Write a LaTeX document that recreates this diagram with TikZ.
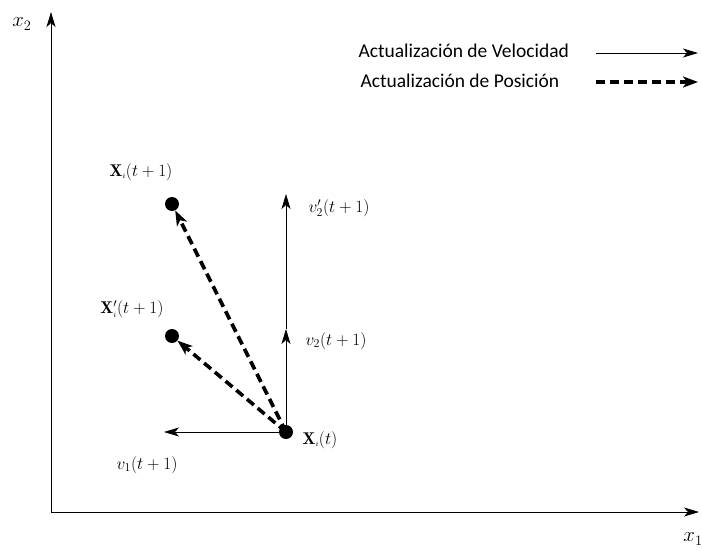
\documentclass[tikz,border=0pt]{standalone}
\usepackage{fontspec}
\setsansfont{Carlito}
\usetikzlibrary{arrows.meta}
\begin{document}
\begin{tikzpicture}[x=1pt,y=-1pt,
  velarrow/.style={draw=black, line width=0.8pt, -{Stealth[length=15pt,width=9pt,inset=4pt]}},
  posarrow/.style={draw=black, line width=3.6pt, dash pattern=on 9pt off 5pt, -{Stealth[length=15pt,width=11pt,inset=4pt]}},
  axisarrow/.style={draw=black, line width=0.8pt, -{Stealth[length=15pt,width=9pt,inset=4pt]}},
  dotnode/.style={circle, fill=black, inner sep=0pt, minimum size=14pt},
  lbl/.style={font=\fontsize{17}{20}\selectfont},
  leg/.style={font=\sffamily\fontsize{19.5}{22}\selectfont, anchor=west}]
\useasboundingbox (0,0) rectangle (702,551);
% axes
\coordinate (O) at (51,512);
\coordinate (Ytop) at (51,12);
\coordinate (Xend) at (699,512);
\draw[axisarrow] (O) -- (Ytop);
\draw[axisarrow] (O) -- (Xend);
\node[font=\fontsize{20}{24}\selectfont] (lx2) at (22,24) {$x_2$};
\node[font=\fontsize{20}{24}\selectfont] (lx1) at (693,539) {$x_1$};
% legend
\node[leg] (leg1) at (355,51) {Actualización de Velocidad};
\node[leg] (leg2) at (357,81) {Actualización de Posición};
\coordinate (l1a) at (596,53);
\coordinate (l1b) at (698,53);
\coordinate (l2a) at (596,82);
\coordinate (l2b) at (698,82);
\draw[velarrow] (l1a) -- (l1b);
\draw[posarrow] (l2a) -- (l2b);
% points
\node[dotnode] (xt) at (286,432) {};
\node[dotnode] (xt1) at (172,204) {};
\node[dotnode] (xpt1) at (172,336) {};
\coordinate (v2end) at (286,329);
\coordinate (vp2end) at (286,194);
\coordinate (v1end) at (164,432);
% velocity arrows
\draw[velarrow] (xt.center) -- (v2end);
\draw[velarrow] (v2end) -- (vp2end);
\draw[velarrow] (xt.center) -- (v1end);
% position arrows
\draw[posarrow] (xt.center) -- (xt1);
\draw[posarrow] (xt.center) -- (xpt1);
% labels
\node[lbl] (lxt1) at (141,172) {$\mathbf{X}_{\scriptscriptstyle i}(t+1)$};
\node[lbl] (lxpt1) at (132,309) {$\mathbf{X}'_{\scriptscriptstyle i}(t+1)$};
\node[lbl] (lxt) at (320,440) {$\mathbf{X}_{\scriptscriptstyle i}(t)$};
\node[lbl] (lvp2) at (339,208) {$v'_2(t+1)$};
\node[lbl] (lv2) at (336,341) {$v_2(t+1)$};
\node[lbl] (lv1) at (147,465) {$v_1(t+1)$};
\end{tikzpicture}
\end{document}
